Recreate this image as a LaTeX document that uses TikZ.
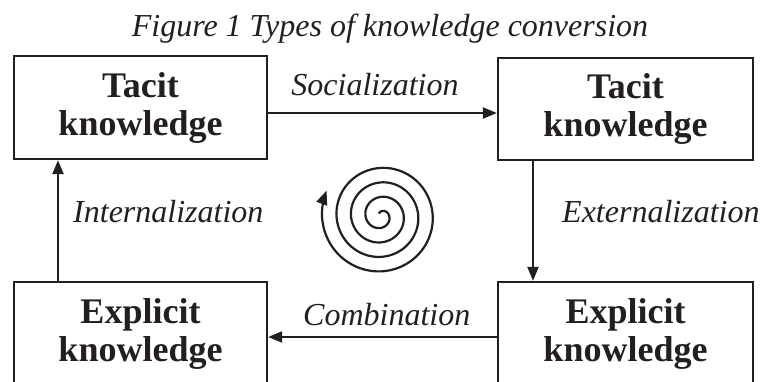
\documentclass[tikz,border=0pt]{standalone}
\usepackage{fontspec}
\setmainfont{Liberation Serif}
\usetikzlibrary{arrows.meta}
\definecolor{ink}{RGB}{35,31,32}
\begin{document}
\begin{tikzpicture}[x=1pt,y=-1pt,
  box/.style={draw=ink, line width=2.3pt, inner sep=0pt, align=center,
    font=\fontsize{36}{38}\selectfont\bfseries, text=ink},
  arr/.style={draw=ink, line width=2.2pt, -{Triangle[length=14pt,width=11pt]}},
  lab/.style={font=\fontsize{32}{36}\selectfont\itshape, text=ink, inner sep=0pt}]
\clip (0,0) rectangle (761,381);
\fill[white] (0,0) rectangle (761,381);
% title
\node[lab, anchor=base] (title) at (390,36) {Figure 1 Types of knowledge conversion};
% boxes
\node[box, minimum width=253pt, minimum height=103pt] (TL) at (140.5,107.5) {Tacit\\knowledge};
\node[box, minimum width=255pt, minimum height=102pt] (TR) at (625.5,109) {Tacit\\knowledge};
\node[box, minimum width=253pt, minimum height=104pt] (BL) at (140.5,334) {Explicit\\knowledge};
\node[box, minimum width=255pt, minimum height=104pt] (BR) at (625.5,334) {Explicit\\knowledge};
% helper coordinates for connector positions
\coordinate (socy) at (0,113);
\coordinate (comy) at (0,337);
\coordinate (extx) at (533,0);
\coordinate (intx) at (58,0);
% connectors
\draw[arr] (TL.east |- socy) -- (TR.west |- socy);
\draw[arr] (TR.south -| extx) -- (BR.north -| extx);
\draw[arr] (BR.west |- comy) -- (BL.east |- comy);
\draw[arr] (BL.north -| intx) -- (TL.south -| intx);
% labels
\node[lab, anchor=base] (soc) at (375,95) {Socialization};
\node[lab, anchor=base west] (ext) at (562,222) {Externalization};
\node[lab, anchor=base west] (int) at (73,222) {Internalization};
\node[lab, anchor=base west] (com) at (303,325) {Combination};
% spiral
\draw[draw=ink, line width=2.2pt, -{Triangle[length=14pt,width=11pt]}]
  plot[variable=\t, domain=0:1415, samples=320]
  ({381+(3+0.04028*\t)*cos(1570-\t)}, {216-(3+0.04028*\t)*sin(1570-\t)});
\end{tikzpicture}
\end{document}
